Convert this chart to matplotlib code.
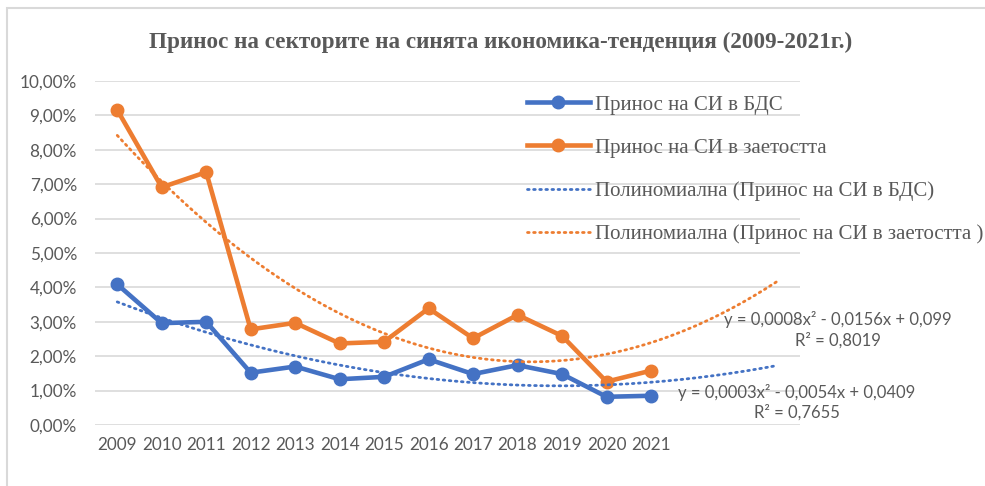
import numpy as np
import matplotlib
matplotlib.use("Agg")
import matplotlib.pyplot as plt
from matplotlib.patches import Rectangle
from matplotlib.ticker import FuncFormatter

# data (share, 0-1)
years = ["2009", "2010", "2011", "2012", "2013", "2014", "2015",
         "2016", "2017", "2018", "2019", "2020", "2021"]
bds = [0.0409, 0.0296, 0.0300, 0.0152, 0.0170, 0.0133, 0.0140,
       0.0191, 0.0148, 0.0174, 0.0148, 0.0082, 0.0085]
zaetost = [0.0916, 0.0691, 0.0735, 0.0278, 0.0297, 0.0237, 0.0242,
           0.0339, 0.0252, 0.0320, 0.0259, 0.0126, 0.0158]

names = ["Принос на СИ в БДС", "Принос на СИ в заетостта",
         "Полиномиална (Принос на СИ в БДС)",
         "Полиномиална (Принос на СИ в заетостта )"]
eq_bds = ["y = 0,0003x² - 0,0054x + 0,0409", "R² = 0,7655"]
eq_zaet = ["y = 0,0008x² - 0,0156x + 0,099", "R² = 0,8019"]

blue = "#4472C4"
orange = "#ED7D31"
grey = "#595959"
grid = "#D9D9D9"

fig = plt.figure(figsize=(9.85, 4.86), dpi=100)
ax = fig.add_axes([95/985, 1-425/486, 705/985, 344/486])

x = np.arange(len(years))

# polynomial trendlines (order 2), forecast forward
xt = np.linspace(0, 14.85, 200)
pb = np.polyfit(x, bds, 2)
pz = np.polyfit(x, zaetost, 2)

ax.plot(x, bds, color=blue, lw=3.3, marker="o", ms=9, zorder=3, label=names[0])
ax.plot(x, zaetost, color=orange, lw=3.3, marker="o", ms=9, zorder=3, label=names[1])
ax.plot(xt, np.polyval(pb, xt), color=blue, lw=2, ls=(0, (0.6, 1.6)),
        dash_capstyle="round", zorder=4, label=names[2])
ax.plot(xt, np.polyval(pz, xt), color=orange, lw=2, ls=(0, (0.6, 1.6)),
        dash_capstyle="round", zorder=4, label=names[3])

ax.set_xlim(-0.5, 15.35)
ax.set_ylim(0, 0.10)
ax.set_yticks(np.arange(0, 0.101, 0.01))
ax.yaxis.set_major_formatter(FuncFormatter(lambda v, p: f"{v*100:.2f}%".replace(".", ",")))
ax.set_xticks(x)
ax.set_xticklabels(years)
ax.tick_params(length=0, labelsize=12.3, labelcolor=grey)
ax.tick_params(axis="y", pad=13)
ax.tick_params(axis="x", pad=9)
for lab in ax.get_xticklabels() + ax.get_yticklabels():
    lab.set_fontfamily("Lato")
ax.grid(axis="y", color=grid, lw=1.2)
ax.set_axisbelow(True)
for s in ax.spines.values():
    s.set_visible(False)

# title
fig.text(501/985, 1-42/486, "Принос на секторите на синята икономика-тенденция (2009-2021г.)",
         ha="center", va="center", fontsize=16.7, fontweight="bold",
         family="Liberation Serif", color=grey)

# legend
leg = fig.legend(loc="upper left", bbox_to_anchor=(527/985, 1-95/486),
                 frameon=False, borderpad=0, borderaxespad=0,
                 handlelength=3.0, handletextpad=0.25, labelspacing=1.13,
                 prop={"family": "Liberation Serif", "size": 15})
for t in leg.get_texts():
    t.set_color(grey)

# trendline equations
fig.text(838/985, 1-320/486, eq_zaet[0], ha="center", va="center", fontsize=12, family="Lato", color=grey)
fig.text(838/985, 1-340/486, eq_zaet[1], ha="center", va="center", fontsize=12, family="Lato", color=grey)
fig.text(797/985, 1-392/486, eq_bds[0], ha="center", va="center", fontsize=12, family="Lato", color=grey)
fig.text(797/985, 1-412/486, eq_bds[1], ha="center", va="center", fontsize=12, family="Lato", color=grey)

# chart area border
fig.add_artist(Rectangle((7/985, -0.1), 1.2, 1.1 - 8/486, transform=fig.transFigure,
                         fill=False, edgecolor=grid, lw=1.5))

fig.savefig("out.png", dpi=100)
